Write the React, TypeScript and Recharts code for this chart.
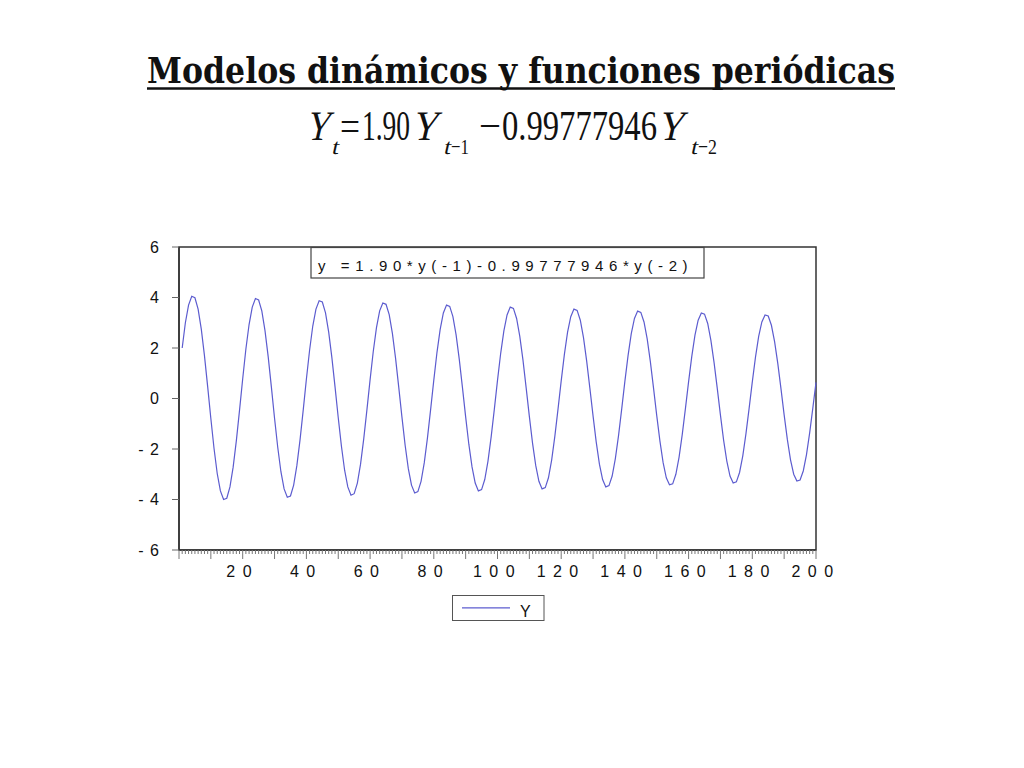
import React from 'react';
import { LineChart, Line, XAxis, YAxis, ReferenceArea } from 'recharts';

// Serie simulada Y(t) = 1.90*Y(t-1) - 0.99777946*Y(t-2), t = 1..200
const yValues = [
  2.0, 3.0, 3.70, 4.05, 3.99, 3.54, 2.75, 1.69, 0.47, -0.79, -1.98, -2.97, -3.66, -4.0, -3.95, -3.50, -2.72, -1.68, -0.47, 0.78,
  1.96, 2.93, 3.62, 3.96, 3.90, 3.47, 2.69, 1.66, 0.46, -0.78, -1.93, -2.90, -3.58, -3.91, -3.86, -3.43, -2.66, -1.64, -0.46, 0.77,
  1.91, 2.87, 3.54, 3.87, 3.82, 3.39, 2.63, 1.62, 0.45, -0.76, -1.89, -2.84, -3.50, -3.83, -3.77, -3.35, -2.60, -1.60, -0.45, 0.75,
  1.87, 2.81, 3.47, 3.78, 3.73, 3.32, 2.58, 1.59, 0.44, -0.74, -1.85, -2.78, -3.43, -3.74, -3.69, -3.28, -2.55, -1.57, -0.44, 0.73,
  1.83, 2.74, 3.39, 3.70, 3.65, 3.24, 2.52, 1.55, 0.43, -0.73, -1.81, -2.71, -3.35, -3.66, -3.61, -3.21, -2.49, -1.53, -0.43, 0.72,
  1.79, 2.68, 3.31, 3.62, 3.57, 3.17, 2.46, 1.52, 0.42, -0.71, -1.77, -2.65, -3.28, -3.58, -3.53, -3.14, -2.44, -1.50, -0.42, 0.70,
  1.75, 2.63, 3.24, 3.54, 3.49, 3.10, 2.41, 1.48, 0.41, -0.69, -1.73, -2.60, -3.21, -3.50, -3.45, -3.07, -2.38, -1.47, -0.41, 0.69,
  1.71, 2.57, 3.17, 3.46, 3.41, 3.03, 2.36, 1.45, 0.40, -0.68, -1.69, -2.54, -3.14, -3.42, -3.38, -3.00, -2.33, -1.43, -0.40, 0.67,
  1.67, 2.51, 3.10, 3.39, 3.34, 2.97, 2.30, 1.42, 0.40, -0.66, -1.66, -2.48, -3.07, -3.35, -3.30, -2.93, -2.28, -1.40, -0.39, 0.66,
  1.64, 2.46, 3.03, 3.31, 3.27, 2.90, 2.25, 1.39, 0.39, -0.65, -1.62, -2.43, -3.00, -3.27, -3.23, -2.87, -2.23, -1.37, -0.38, 0.64,
];

const xLabelTicks = [20, 40, 60, 80, 100, 120, 140, 160, 180, 200];
const yTicks = [-6, -4, -2, 0, 2, 4, 6];
const xDomain = [0, 200];
const yDomain = [-6, 6];

const title = 'Modelos dinámicos y funciones periódicas';
const boxText = 'y =1.90*y(-1)-0.99777946*y(-2)';
const seriesName = 'Y';

const LINE_COLOR = '#5c5ccf';
const AXIS_FONT = '"Liberation Sans", Arial, sans-serif';
const EQ_FONT = '"Liberation Serif", "Times New Roman", serif';

// tabla para recharts: observación t = posición + 1
const chartData = yValues.map((v, i) => ({ t: i + 1, y: v }));

// marcas menores cada observación (estilo EViews)
const allXTicks = Array.from({ length: xDomain[1] + 1 }, (_, i) => i);

// "20" -> "2 0", "-2" -> "- 2"
const spaced = (v: number) => String(v).split('').join(' ');

const XTick = (props: any) => {
  const { x, y, payload } = props;
  const v = payload.value;
  const major = v % 10 === 0;
  return (
    <g>
      <line x1={x} x2={x} y1={y} y2={y + (major ? 9 : 4)} stroke="#777" strokeWidth={1} />
      {v > 0 && xLabelTicks.includes(v) ? (
        <text x={x - 3} y={y + 27} textAnchor="middle" fontSize={16} fontFamily={AXIS_FONT} fill="#111" letterSpacing={1.5}>
          {spaced(v)}
        </text>
      ) : null}
    </g>
  );
};

// cursiva sintética (inclinación) para las variables de la ecuación
const Slanted = ({ x, y, size, len, children }: any) => (
  <g transform={`translate(${x}, ${y}) skewX(-13)`}>
    <text x={0} y={0} fontSize={size} textLength={len} lengthAdjust="spacingAndGlyphs">
      {children}
    </text>
  </g>
);

const Plain = ({ x, y, size, len, children }: any) => (
  <text x={x} y={y} fontSize={size} textLength={len} lengthAdjust="spacingAndGlyphs">
    {children}
  </text>
);

const App = () => {
  return (
    <div style={{ position: 'absolute', left: 0, top: 0, width: 1024, height: 768, background: '#fff' }}>
      <div style={{ position: 'absolute', left: 0, top: 0 }}>
        <LineChart width={1024} height={700} data={chartData} margin={{ top: 247, right: 208, left: 109, bottom: 110 }}>
          <ReferenceArea x1={xDomain[0]} x2={xDomain[1]} y1={yDomain[0]} y2={yDomain[1]} fill="none" stroke="#333" strokeWidth={1.5} strokeOpacity={1} />
          <XAxis
            dataKey="t"
            type="number"
            domain={xDomain}
            ticks={allXTicks}
            interval={0}
            tick={<XTick />}
            tickLine={false}
            tickSize={0}
            tickMargin={0}
            height={40}
            axisLine={{ stroke: '#333', strokeWidth: 1.5 }}
          />
          <YAxis
            type="number"
            domain={yDomain}
            ticks={yTicks}
            interval={0}
            width={70}
            tickSize={7}
            tickMargin={12}
            tickFormatter={spaced}
            tick={{ fontSize: 16, fill: '#111', fontFamily: AXIS_FONT, letterSpacing: 1 }}
            tickLine={{ stroke: '#666' }}
            axisLine={{ stroke: '#333', strokeWidth: 1.5 }}
          />
          <Line
            type="linear"
            dataKey="y"
            name={seriesName}
            stroke={LINE_COLOR}
            strokeWidth={1.2}
            dot={false}
            isAnimationActive={false}
          />
        </LineChart>
      </div>

      {/* título, ecuación, recuadro y leyenda */}
      <svg width={1024} height={768} style={{ position: 'absolute', left: 0, top: 0, pointerEvents: 'none' }}>
        <text x={147} y={83} fontFamily='"DejaVu Serif", serif' fontWeight="bold" fontSize={35} fill="#111" textLength={748} lengthAdjust="spacingAndGlyphs">
          {title}
        </text>
        <line x1={147} x2={895} y1={88.5} y2={88.5} stroke="#111" strokeWidth={2.5} />

        <g fontFamily={EQ_FONT} fill="#111">
          <Slanted x={305} y={139.5} size={42} len={24}>Y</Slanted>
          <Slanted x={331} y={154} size={22} len={7}>t</Slanted>
          <Plain x={340} y={139.5} size={42} len={20}>=</Plain>
          <Plain x={362} y={139.5} size={42} len={48}>1.90</Plain>
          <Slanted x={411} y={139.5} size={42} len={26}>Y</Slanted>
          <Slanted x={443} y={154} size={22} len={7}>t</Slanted>
          <Plain x={451} y={154} size={22} len={18}>−1</Plain>
          <Plain x={479} y={139.5} size={42} len={22}>−</Plain>
          <Plain x={502} y={139.5} size={42} len={155}>0.99777946</Plain>
          <Slanted x={657} y={139.5} size={42} len={26}>Y</Slanted>
          <Slanted x={690} y={154} size={22} len={7}>t</Slanted>
          <Plain x={698} y={154} size={22} len={19}>−2</Plain>
        </g>

        <rect x={311} y={247.5} width={393} height={30.5} fill="#fff" stroke="#444" strokeWidth={1.2} />
        <text x={318} y={270.7} fontFamily={AXIS_FONT} fontSize={15} fill="#111" letterSpacing={5.6}>
          {boxText}
        </text>

        <rect x={452.5} y={595.5} width={91.5} height={25} fill="#fff" stroke="#555" strokeWidth={1} />
        <line x1={462} x2={510} y1={607.8} y2={607.8} stroke={LINE_COLOR} strokeWidth={1.3} />
        <text x={520} y={616.5} fontFamily={AXIS_FONT} fontSize={16} fill="#111">
          {seriesName}
        </text>
      </svg>
    </div>
  );
};

export default App;
